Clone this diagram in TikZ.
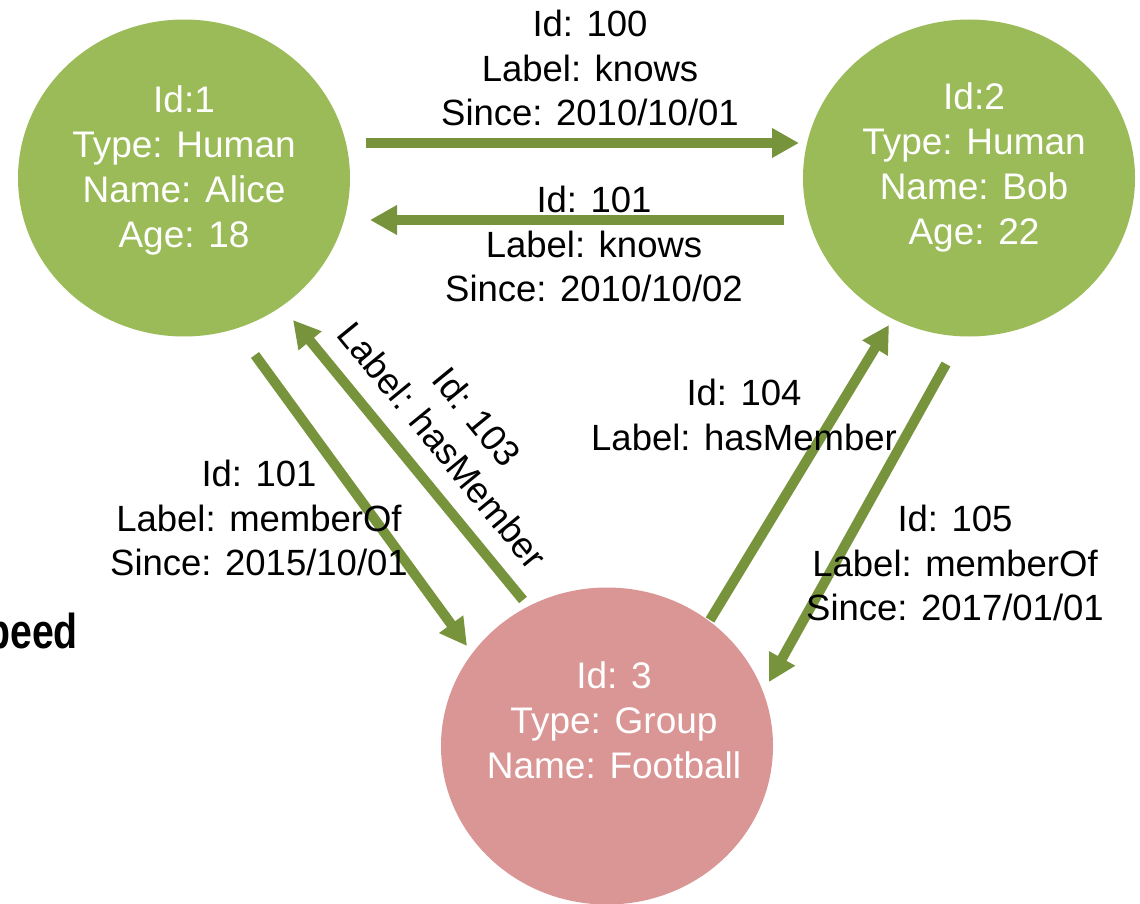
\documentclass[tikz,border=0pt]{standalone}
\usepackage{fontspec}
\setmainfont{Liberation Sans}
\usetikzlibrary{arrows.meta,shapes.geometric}
\definecolor{nodegreen}{HTML}{9BBB59}
\definecolor{nodepink}{HTML}{D99694}
\definecolor{edgegreen}{HTML}{77933C}
\begin{document}
\begin{tikzpicture}[x=1pt,y=-1pt,
  vertex/.style={ellipse, minimum width=332pt, minimum height=317pt, inner sep=0pt, draw=none},
  vtext/.style={text=white, align=center, inner sep=0pt, font=\fontsize{37}{45}\selectfont},
  elabel/.style={text=black, align=center, inner sep=0pt, font=\fontsize{36.5}{44.5}\selectfont},
  edge/.style={draw=edgegreen, line width=10pt, -{Triangle[length=27pt,width=28pt]}}]
\useasboundingbox (0,0) rectangle (1140,904);
\clip (0,0) rectangle (1140,904);
\fill[white] (0,0) rectangle (1140,904);

% vertices
\node[vertex, fill=nodegreen] (alice) at (184,178) {};
\node[vertex, fill=nodegreen] (bob) at (969,178) {};
\node[vertex, fill=nodepink] (group) at (607,746) {};

% connector end points
\coordinate (k100s) at (366,143);
\coordinate (k100e) at (799,143);
\coordinate (k101s) at (784,220);
\coordinate (k101e) at (370,220);
\coordinate (m101s) at (255,355);
\coordinate (m101e) at (467,646);
\coordinate (h103s) at (523,600);
\coordinate (h103e) at (293,320);
\coordinate (h104s) at (710,620);
\coordinate (h104e) at (889,325);
\coordinate (m105s) at (946,364);
\coordinate (m105e) at (769,682);

% connectors
\draw[edge] (k100s) -- (k100e);
\draw[edge] (k101s) -- (k101e);
\draw[edge] (m101s) -- (m101e);
\draw[edge] (h103s) -- (h103e);
\draw[edge] (h104s) -- (h104e);
\draw[edge] (m105s) -- (m105e);

% vertex texts
\node[vtext] (alicet) at (184,170) {Id:1\\Type: Human\\Name: Alice\\Age: 18};
\node[vtext] (bobt) at (974,167) {Id:2\\Type: Human\\Name: Bob\\Age: 22};
\node[vtext] (groupt) at (614,720) {Id: 3\\Type: Group\\Name: Football};

% edge labels
\node[elabel] (l100) at (590,68) {Id: 100\\Label: knows\\Since: 2010/10/01};
\node[elabel] (l101) at (594,244) {Id: 101\\Label: knows\\Since: 2010/10/02};
\node[elabel] (l101m) at (259,518) {Id: 101\\Label: memberOf\\Since: 2015/10/01};
\node[elabel, rotate=-50.7] (l103) at (460,431) {Id: 103\\Label: hasMember};
\node[elabel] (l104) at (744,415) {Id: 104\\Label: hasMember};
\node[elabel] (l105) at (955,563) {Id: 105\\Label: memberOf\\Since: 2017/01/01};

% cut-off text at left
\node[anchor=base east, inner sep=0pt, xscale=0.8, font=\fontsize{49}{49}\selectfont\bfseries] (speed) at (78,648) {peed};
\end{tikzpicture}
\end{document}
